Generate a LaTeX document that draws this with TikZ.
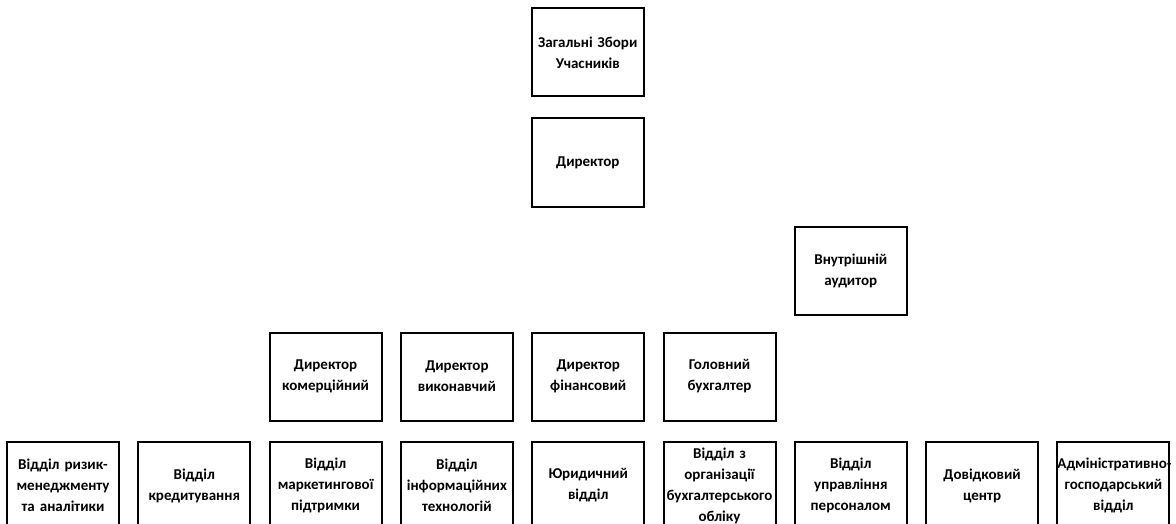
\documentclass[tikz,border=0pt]{standalone}
\usepackage{fontspec}
\setmainfont{Carlito}
\begin{document}
\begin{tikzpicture}[x=1pt,y=-1pt,
  orgbox/.style={draw=black, line width=2pt, rectangle, minimum width=112pt, minimum height=88pt,
    text width=112pt, align=center, font=\bfseries\fontsize{15pt}{21pt}\selectfont, inner sep=0pt}]
\useasboundingbox (0,0) rectangle (1176,524);
\clip (0,0) rectangle (1176,524);
\node[orgbox] (zag) at (587.8,52.5) {Загальні Збори\\Учасників};
\node[orgbox] (dir) at (587.8,162.5) {Директор};
\node[orgbox] (aud) at (850.8,271) {Внутрішній\\аудитор};
\node[orgbox] (dk) at (325.6,376.5) {Директор\\комерційний};
\node[orgbox] (dv) at (456.9,376.5) {Директор\\виконавчий};
\node[orgbox] (df) at (588.2,376.5) {Директор\\фінансовий};
\node[orgbox] (gb) at (719.5,376.5) {Головний\\бухгалтер};
\node[orgbox] (b1) at (63,485.5) {\mbox{Відділ ризик-}\\менеджменту\\та аналітики};
\node[orgbox] (b2) at (194.3,485.5) {Відділ\\кредитування};
\node[orgbox] (b3) at (325.6,485.5) {Відділ\\маркетингової\\підтримки};
\node[orgbox] (b4) at (456.9,485.5) {Відділ\\інформаційних\\технологій};
\node[orgbox] (b5) at (588.2,485.5) {Юридичний\\відділ};
\node[orgbox] (b6) at (719.5,485.5) {Відділ з\\організації\\бухгалтерського\\обліку};
\node[orgbox] (b7) at (850.8,485.5) {Відділ\\управління\\персоналом};
\node[orgbox] (b8) at (982.1,485.5) {Довідковий\\центр};
\node[orgbox] (b9) at (1113.4,485.5) {\mbox{Адміністративно-}\\господарський\\відділ};
\end{tikzpicture}
\end{document}
